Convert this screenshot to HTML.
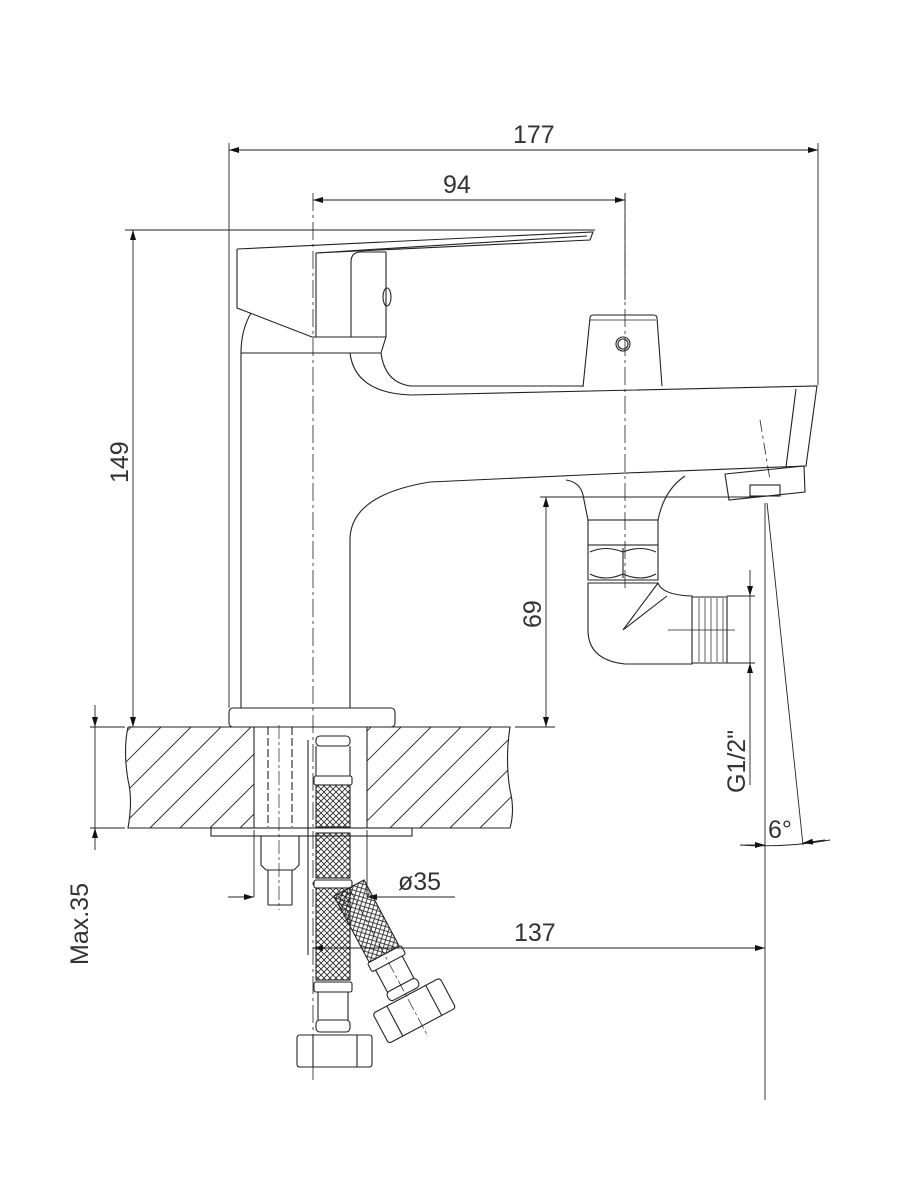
<!DOCTYPE html>
<html><head><meta charset="utf-8"><style>
html,body{margin:0;padding:0;background:#fff;}
svg{display:block;}
text{font-family:"Liberation Sans",sans-serif;fill:#333;font-size:25px;}
</style></head><body>
<svg width="900" height="1200" viewBox="0 0 900 1200" xmlns="http://www.w3.org/2000/svg">
<defs>
<marker id="a" viewBox="0 0 10 6" refX="10" refY="3" markerWidth="10" markerHeight="6" orient="auto-start-reverse" markerUnits="userSpaceOnUse"><path d="M0,0 L10,3 L0,6 z" fill="#111"/></marker>
<pattern id="mesh" width="6" height="6" patternUnits="userSpaceOnUse"><path d="M0,0 L6,6 M6,0 L0,6" stroke="#222" stroke-width="0.8"/></pattern>
<clipPath id="cl"><path d="M128,727 L510,727 Q505,760 510,790 Q515,810 510,828 L128,828 Q133,800 128,780 Q123,750 128,727 Z M254,727 L254,828 L367,828 L367,727 Z" clip-rule="evenodd"/></clipPath>
</defs>
<g fill="none" stroke="#222" stroke-width="1.1">
<!-- dimension lines -->
<line x1="229" y1="143" x2="229" y2="708" stroke-width="0.9"/>
<line x1="818" y1="143" x2="818" y2="385" stroke-width="0.9"/>
<line x1="229" y1="150" x2="818" y2="150" marker-start="url(#a)" marker-end="url(#a)" stroke-width="0.9"/>
<line x1="625" y1="193" x2="625" y2="300" stroke-width="0.9"/>
<line x1="313" y1="200" x2="625" y2="200" marker-start="url(#a)" marker-end="url(#a)" stroke-width="0.9"/>
<line x1="125" y1="230" x2="595" y2="230" stroke-width="0.9"/>
<line x1="133" y1="230" x2="133" y2="727" marker-start="url(#a)" marker-end="url(#a)" stroke-width="0.9"/>
<line x1="90" y1="727" x2="125" y2="727" stroke-width="0.9"/>
<line x1="515" y1="727" x2="555" y2="727" stroke-width="0.9"/>
<line x1="540" y1="497" x2="760" y2="497" stroke-width="0.9"/>
<line x1="546" y1="497" x2="546" y2="727" marker-start="url(#a)" marker-end="url(#a)" stroke-width="0.9"/>
<line x1="90" y1="828" x2="125" y2="828" stroke-width="0.9"/>
<line x1="95" y1="705" x2="95" y2="727" marker-end="url(#a)" stroke-width="0.9"/>
<line x1="95" y1="850" x2="95" y2="828" marker-end="url(#a)" stroke-width="0.9"/>
<line x1="95" y1="727" x2="95" y2="828" stroke-width="0.9"/>
<line x1="228" y1="897" x2="254" y2="897" marker-end="url(#a)" stroke-width="0.9"/>
<line x1="455" y1="897" x2="367" y2="897" marker-end="url(#a)" stroke-width="0.9"/>
<line x1="254" y1="897" x2="254" y2="830" stroke-width="0.9"/>
<line x1="367" y1="897" x2="367" y2="830" stroke-width="0.9"/>
<line x1="313" y1="948" x2="765" y2="948" marker-start="url(#a)" marker-end="url(#a)" stroke-width="0.9"/>
<line x1="765" y1="503" x2="765" y2="1100" stroke-width="0.9"/>
<line x1="767" y1="503" x2="803" y2="845" stroke-width="0.9"/>
<path d="M740,845 Q785,848 830,840" stroke-width="0.9"/>
<line x1="745" y1="845" x2="765" y2="845" marker-end="url(#a)" stroke-width="0.9"/>
<line x1="825" y1="840" x2="803" y2="843" marker-end="url(#a)" stroke-width="0.9"/>
<line x1="727" y1="596" x2="755" y2="596" stroke-width="0.9"/>
<line x1="727" y1="663" x2="755" y2="663" stroke-width="0.9"/>
<line x1="750" y1="570" x2="750" y2="596" marker-end="url(#a)" stroke-width="0.9"/>
<line x1="750" y1="785" x2="750" y2="663" marker-end="url(#a)" stroke-width="0.9"/>
<line x1="750" y1="596" x2="750" y2="663" stroke-width="0.9"/>
<!-- centerlines -->
<line x1="313" y1="193" x2="313" y2="1080" stroke-dasharray="18,4,3,4" stroke-width="0.8"/>
<line x1="625" y1="193" x2="625" y2="590" stroke-dasharray="18,4,3,4" stroke-width="0.8"/>
<line x1="760" y1="420" x2="770" y2="480" stroke-dasharray="12,4,3,4" stroke-width="0.8"/>
<!-- handle / lever -->
<path d="M237,249 L593,232 L590,240 L316,253"/>
<line x1="316" y1="253" x2="587" y2="236"/>
<path d="M237,249 L237,308 L312,337 L386,337 L386,252"/>
<line x1="316" y1="253" x2="316" y2="337"/>
<path d="M351,337 L351,262 Q351,252 361,252 L386,252"/>
<ellipse cx="387" cy="297" rx="4" ry="9"/>
<!-- body -->
<path d="M251,313 Q241,330 241,353 L241,708"/>
<line x1="241" y1="353" x2="381" y2="353"/>
<path d="M386,337 L381,353 Q385,383 411,386 L583,386"/>
<path d="M350,353 Q355,393 411,395 L817,386 L806,466 L626,473 L430,482 Q350,495 350,540 L350,708"/>
<path d="M796,389 L786,467"/>
<!-- knob -->
<path d="M583,387 L590,318 Q590,315 594,315 L653,315 Q657,315 657,318 L662,386"/>
<line x1="590" y1="320" x2="656" y2="320" stroke-width="0.8"/>
<circle cx="623" cy="344" r="7"/><circle cx="623" cy="344" r="5"/>
<!-- aerator -->
<path d="M725,474 L804,466 L805,492 L729,500 Z"/>
<rect x="750" y="485" width="30" height="11"/>
<!-- boss under spout -->
<path d="M566,480 Q580,482 583,495 L588,520 L658,520 Q664,490 685,476"/>
<rect x="588" y="520" width="70" height="25"/>
<path d="M588,545 L658,545 L658,580 L588,580 Z"/>
<path d="M590,552 Q605,545 623,552 Q641,545 656,552 M590,574 Q605,582 623,574 Q641,582 656,574"/>
<line x1="623" y1="548" x2="623" y2="578"/>
<!-- elbow -->
<path d="M588,583 L658,583 Q662,595 692,596 L692,664 L625,664 Q588,660 588,630 Z"/>
<path d="M658,583 L623,630 L667,596"/>
<path d="M692,597 L727,597 L727,663 L692,663"/>
<path d="M699,598 L699,662 M705,598 L705,662 M711,598 L711,662 M717,598 L717,662 M723,598 L723,662" stroke-width="0.7"/>
<line x1="668" y1="630" x2="735" y2="630" stroke-width="0.7"/>
<!-- counter -->
<path d="M128,727 L254,727 M367,727 L510,727 Q505,760 510,790 Q515,810 510,828 L367,828 M254,828 L128,828 Q133,800 128,780 Q123,750 128,727"/>
<line x1="254" y1="727" x2="254" y2="828"/>
<line x1="367" y1="727" x2="367" y2="828"/>
<g clip-path="url(#cl)" stroke-width="0.9">
<path d="M30,828 L131,727 M60,828 L161,727 M90,828 L191,727 M120,828 L221,727 M150,828 L251,727 M180,828 L281,727 M210,828 L311,727 M240,828 L341,727 M270,828 L371,727 M300,828 L401,727 M330,828 L431,727 M360,828 L461,727 M390,828 L491,727 M420,828 L521,727 M450,828 L551,727 M480,828 L581,727"/>
</g>
<rect x="229" y="708" width="166" height="19" rx="4"/>
<rect x="211" y="828" width="201" height="8"/>
<!-- stud -->
<path d="M268,727 L268,827 M292,727 L292,827" stroke-dasharray="8,3"/>
<line x1="279" y1="725" x2="279" y2="910" stroke-dasharray="14,3,3,3" stroke-width="0.7"/>
<path d="M261,836 L299,836 L299,865 L294,870 L266,870 L261,865 Z"/>
<line x1="268" y1="870" x2="268" y2="905"/><line x1="292" y1="870" x2="292" y2="905"/>
<line x1="268" y1="905" x2="292" y2="905"/>
<line x1="308" y1="740" x2="308" y2="955"/>
<!-- straight hose -->
<rect x="316" y="736" width="34" height="10" rx="4"/>
<line x1="316" y1="746" x2="316" y2="776"/><line x1="350" y1="746" x2="350" y2="776"/>
<rect x="314" y="776" width="38" height="9" rx="2"/>
<rect x="316" y="785" width="34" height="42" fill="url(#mesh)"/>
<rect x="316" y="833" width="34" height="45" fill="url(#mesh)"/>
<rect x="314" y="880" width="38" height="8" rx="2"/>
<rect x="316" y="888" width="34" height="92" fill="url(#mesh)"/>
<rect x="314" y="982" width="38" height="10" rx="2"/>
<line x1="318" y1="992" x2="318" y2="1020"/><line x1="348" y1="992" x2="348" y2="1020"/>
<rect x="316" y="1020" width="34" height="12" rx="4"/>
<path d="M297,1038 Q297,1035 300,1035 L369,1035 Q372,1035 372,1038 L372,1064 Q372,1067 369,1067 L300,1067 Q297,1067 297,1064 Z"/>
<line x1="313" y1="1035" x2="313" y2="1067"/><line x1="357" y1="1035" x2="357" y2="1067"/>
<!-- angled hose -->
<g transform="translate(349,888) rotate(-28)">
<path d="M-34,0 L0,0 L0,75 L-34,75 Z" fill="url(#mesh)" transform="translate(17,0)"/>
<rect x="-19" y="75" width="38" height="10" rx="2"/>
<line x1="-15" y1="85" x2="-15" y2="110"/><line x1="15" y1="85" x2="15" y2="110"/>
<rect x="-17" y="110" width="34" height="10" rx="4"/>
<rect x="-38" y="122" width="76" height="34" rx="3"/>
<line x1="-22" y1="122" x2="-22" y2="156"/><line x1="22" y1="122" x2="22" y2="156"/>
<line x1="0" y1="0" x2="0" y2="165" stroke-dasharray="12,3,3,3" stroke-width="0.7"/>
</g>
</g>
<!-- labels -->
<text x="513" y="143">177</text>
<text x="443" y="193">94</text>
<text transform="translate(128,483) rotate(-90)">149</text>
<text transform="translate(541,628) rotate(-90)">69</text>
<text transform="translate(88,965) rotate(-90)">Max.35</text>
<text x="398" y="890">ø35</text>
<text x="514" y="941">137</text>
<text transform="translate(745,793) rotate(-90)">G1/2"</text>
<text x="768" y="838">6°</text>
</svg>
</body></html>
